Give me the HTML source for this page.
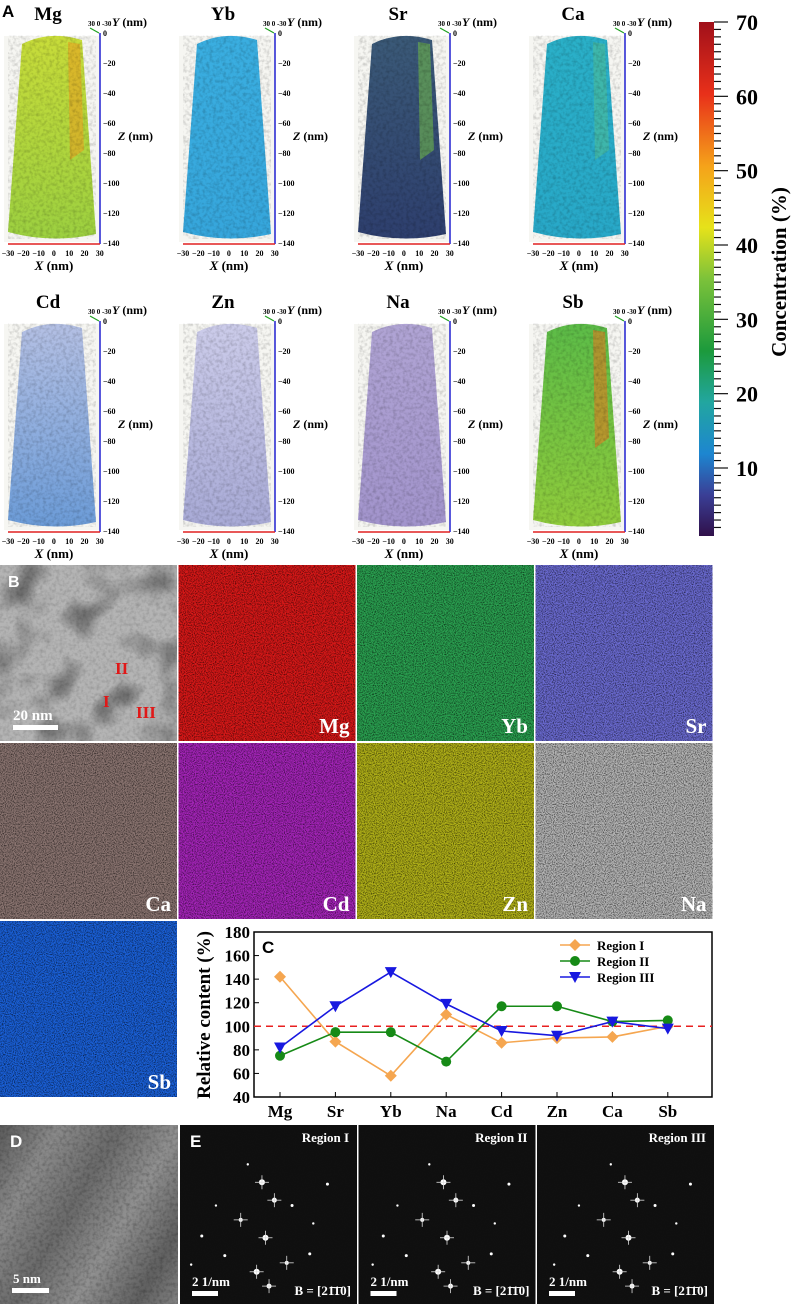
<!DOCTYPE html>
<html><head><meta charset="utf-8">
<style>
html,body{margin:0;padding:0;background:#fff;}
svg{display:block;font-family:"Liberation Serif",serif;}
.lbl{font-family:"Liberation Sans",sans-serif;font-weight:bold;}
</style></head>
<body>
<svg id="fig" width="798" height="1304" viewBox="0 0 798 1304" xmlns="http://www.w3.org/2000/svg">
<defs>
  <filter id="noise" x="0" y="0" width="100%" height="100%">
    <feTurbulence type="fractalNoise" baseFrequency="0.9" numOctaves="2" seed="3"/>
    <feColorMatrix type="matrix" values="0 0 0 0 0  0 0 0 0 0  0 0 0 0 0  0 0 0 -2.2 1.3"/>
  </filter>
  <filter id="blob" x="0" y="0" width="100%" height="100%">
    <feTurbulence type="fractalNoise" baseFrequency="0.025" numOctaves="2" seed="7"/>
    <feColorMatrix type="matrix" values="0 0 0 0 0  0 0 0 0 0  0 0 0 0 0  0 0 0 -3 1.6"/>
  </filter>
  <filter id="fine" x="0" y="0" width="100%" height="100%">
    <feTurbulence type="fractalNoise" baseFrequency="0.3" numOctaves="2" seed="11"/>
    <feColorMatrix type="matrix" values="0 0 0 0 0  0 0 0 0 0  0 0 0 0 0  0 0 0 -1.5 0.9"/>
  </filter>
  <linearGradient id="cbar" x1="0" y1="1" x2="0" y2="0">
    <stop offset="0" stop-color="#30104a"/>
    <stop offset="0.08" stop-color="#3a3f96"/>
    <stop offset="0.16" stop-color="#1d86d0"/>
    <stop offset="0.26" stop-color="#22a6a0"/>
    <stop offset="0.36" stop-color="#1c9a3c"/>
    <stop offset="0.5" stop-color="#7cc23a"/>
    <stop offset="0.6" stop-color="#e6e21a"/>
    <stop offset="0.72" stop-color="#f5a21a"/>
    <stop offset="0.86" stop-color="#e8301a"/>
    <stop offset="1" stop-color="#a0101a"/>
  </linearGradient>
  <linearGradient id="dgrad" x1="0" y1="0" x2="1" y2="0.6" spreadMethod="reflect">
    <stop offset="0" stop-color="#5a5a5a"/>
    <stop offset="0.25" stop-color="#8a8a8a"/>
    <stop offset="0.5" stop-color="#6a6a6a"/>
    <stop offset="0.75" stop-color="#909090"/>
    <stop offset="1" stop-color="#606060"/>
  </linearGradient>
</defs>

<g id="panelA"></g>
<g id="cbarG"></g>
<g id="panelB"></g>
<g id="chartC"></g>
<g id="panelDE"></g>
</svg>
<script>
const NS="http://www.w3.org/2000/svg";
// Chart C data
const categories=["Mg","Sr","Yb","Na","Cd","Zn","Ca","Sb"];
const regionI=[142,87,58,110,86,90,91,100];
const regionII=[75,95,95,70,117,117,104,105];
const regionIII=[82,117,146,119,96,92,104,98];
const yTicks=[40,60,80,100,120,140,160,180];
const cbarTicks=[10,20,30,40,50,60,70];
const zTicks=[0,-20,-40,-60,-80,-100,-120,-140];
const xTicks=[-30,-20,-10,0,10,20,30];

function el(tag,attrs,parent,text){const e=document.createElementNS(NS,tag);for(const k in attrs)e.setAttribute(k,attrs[k]);if(text!==undefined)e.textContent=text;parent.appendChild(e);return e;}

// ---------- Panel A ----------
const A=document.getElementById('panelA');
const tomo=[
 {n:"Mg",c1:"#c8dc3a",c2:"#9cd040",hi:"#e8a020"},
 {n:"Yb",c1:"#3aaee0",c2:"#36a6dc",hi:null},
 {n:"Sr",c1:"#3b5a78",c2:"#2e3f6e",hi:"#6fb84a"},
 {n:"Ca",c1:"#2ab0c8",c2:"#28a8c8",hi:"#4cbc98"},
 {n:"Cd",c1:"#b4c0e4",c2:"#6c9cd8",hi:null},
 {n:"Zn",c1:"#ccccea",c2:"#a8aad6",hi:null},
 {n:"Na",c1:"#b0a4d4",c2:"#a294cc",hi:null},
 {n:"Sb",c1:"#5cbc48",c2:"#90cc3c",hi:"#e07a22"}
];
tomo.forEach((t,i)=>{
  const ox=(i%4)*175, oy=Math.floor(i/4)*288;
  const g=el('g',{},A);
  
  
  el('text',{x:ox+48,y:oy+20,'font-size':19,'font-weight':'bold','text-anchor':'middle'},g,t.n);
  el('rect',{x:ox+4,y:oy+36,width:96,height:206,fill:'#f6f6f2'},g);
  const gid='tg'+i;
  const lg=el('linearGradient',{id:gid,x1:0,y1:0,x2:0,y2:1},g);
  el('stop',{offset:0,'stop-color':t.c1},lg);el('stop',{offset:1,'stop-color':t.c2},lg);
  const p=`M${ox+22},${oy+44} Q${ox+50},${oy+30} ${ox+82},${oy+40} L${ox+96},${oy+234} Q${ox+52},${oy+244} ${ox+8},${oy+232} Z`;
  el('path',{d:p,fill:`url(#${gid})`},g);
  if(t.hi){el('path',{d:`M${ox+68},${oy+42} L${ox+80},${oy+44} L${ox+84},${oy+150} L${ox+70},${oy+160} Z`,fill:t.hi,opacity:0.6},g);}
  el('path',{d:p,fill:'#000',filter:'url(#fine)',opacity:0.25},g);
  el('line',{x1:ox+100,y1:oy+33,x2:ox+100,y2:oy+244,stroke:'#2020d0','stroke-width':1.5},g);
  el('line',{x1:ox+8,y1:oy+244,x2:ox+100,y2:oy+244,stroke:'#e02020','stroke-width':1.5},g);
  el('line',{x1:ox+90,y1:oy+28,x2:ox+99,y2:oy+33,stroke:'#20a020','stroke-width':1.2},g);
  el('text',{x:ox+88,y:oy+26,'font-size':7,'font-weight':'bold'},g,"30 0 -30");
  el('text',{x:ox+112,y:oy+26,'font-size':12,'font-weight':'bold'},g).innerHTML='<tspan font-style="italic">Y</tspan> (nm)';
  zTicks.forEach((z,k)=>{el('text',{x:ox+103,y:oy+36+k*30,'font-size':8,'font-weight':'bold'},g,z===0?"0":"−"+(-z));});
  el('text',{x:ox+118,y:oy+140,'font-size':12,'font-weight':'bold'},g).innerHTML='<tspan font-style="italic">Z</tspan> (nm)';
  xTicks.forEach((x,k)=>{el('text',{x:ox+8+k*15.3,y:oy+256,'font-size':8,'font-weight':'bold','text-anchor':'middle'},g,x<0?"−"+(-x):String(x));});
  el('text',{x:ox+54,y:oy+270,'font-size':13,'font-weight':'bold','text-anchor':'middle'},g).innerHTML='<tspan font-style="italic">X</tspan> (nm)';
});
el('text',{x:2,y:17,'font-size':17,class:'lbl'},A,"A");

// ---------- Colorbar ----------
const CB=document.getElementById('cbarG');
const cy=v=>22+(70-v)*(468-22)/60;
el('rect',{x:699,y:22,width:15,height:514,fill:'url(#cbar)'},CB);
for(let v=2;v<=70;v++){el('line',{x1:714,x2:v%10===0?728:721,y1:cy(v),y2:cy(v),stroke:'#111','stroke-width':1.2},CB);}
cbarTicks.forEach(v=>{el('text',{x:736,y:cy(v)+8,'font-size':22,'font-weight':'bold'},CB,String(v));});
el('text',{x:786,y:272,'font-size':21,'font-weight':'bold','text-anchor':'middle',transform:'rotate(-90 786 272)'},CB,"Concentration (%)");

// ---------- Panel B ----------
const B=document.getElementById('panelB');
const tiles=[
 {n:"",c:"#b4b4b4",row:0,col:0},{n:"Mg",c:"#d81818",row:0,col:1},{n:"Yb",c:"#2aa050",row:0,col:2},{n:"Sr",c:"#6a6ad0",row:0,col:3},
 {n:"Ca",c:"#8a7470",row:1,col:0},{n:"Cd",c:"#a424b8",row:1,col:1},{n:"Zn",c:"#b0b018",row:1,col:2},{n:"Na",c:"#b4b4b4",row:1,col:3},
 {n:"Sb",c:"#1a60d8",row:2,col:0}
];
tiles.forEach(t=>{
  const x=t.col*178.5, y=565+t.row*178, w=177, h=176;
  const g=el('g',{},B);
  
  
  el('rect',{x:x,y:y,width:w,height:h,fill:t.c},g);
  if(t.n===""){el('rect',{x:x,y:y,width:w,height:h,fill:'#555',filter:'url(#blob)',opacity:0.4},g);
    el('rect',{x:x,y:y,width:w,height:h,fill:'#fff',filter:'url(#fine)',opacity:0.2},g);}
  else el('rect',{x:x,y:y,width:w,height:h,fill:'#000',filter:'url(#noise)',opacity:0.75},g);
  if(t.n) el('text',{x:x+w-6,y:y+h-8,'font-size':21,'font-weight':'bold',fill:'#fff','text-anchor':'end'},g,t.n);
});
el('text',{x:8,y:587,'font-size':16,class:'lbl',fill:'#fff'},B,"B");
el('text',{x:115,y:674,'font-size':17,'font-weight':'bold',fill:'#e01818'},B,"II");
el('text',{x:103,y:707,'font-size':17,'font-weight':'bold',fill:'#e01818'},B,"I");
el('text',{x:136,y:718,'font-size':17,'font-weight':'bold',fill:'#e01818'},B,"III");
el('text',{x:13,y:720,'font-size':15,'font-weight':'bold',fill:'#fff'},B,"20 nm");
el('rect',{x:13,y:725,width:45,height:5,fill:'#fff'},B);

// ---------- Chart C ----------
const C=document.getElementById('chartC');
el('rect',{x:180,y:921,width:534,height:186,fill:'#fff'},C);
const L=254,R=712,T=932,Bt=1097;
const xs=i=>280+i*55.4;
const ys=v=>Bt-(v-40)*(Bt-T)/140;
el('rect',{x:L,y:T,width:R-L,height:Bt-T,fill:'none',stroke:'#000','stroke-width':1.5},C);
yTicks.forEach(v=>{el('line',{x1:L,x2:L+5,y1:ys(v),y2:ys(v),stroke:'#000'},C);
  el('text',{x:L-4,y:ys(v)+6,'font-size':17,'font-weight':'bold','text-anchor':'end'},C,String(v));});
categories.forEach((c,i)=>{el('line',{x1:xs(i),x2:xs(i),y1:Bt,y2:Bt-5,stroke:'#000'},C);
  el('text',{x:xs(i),y:Bt+20,'font-size':17,'font-weight':'bold','text-anchor':'middle'},C,c);});
el('text',{x:210,y:1015,'font-size':19,'font-weight':'bold','text-anchor':'middle',transform:'rotate(-90 210 1015)'},C,"Relative content  (%)");
el('text',{x:262,y:953,'font-size':17,class:'lbl'},C,"C");
el('line',{x1:L,x2:R,y1:ys(100),y2:ys(100),stroke:'#e82020','stroke-width':1.5,'stroke-dasharray':'7,5'},C);
const series=[{d:regionI,c:"#f5a650",m:"diamond",n:"Region I"},{d:regionII,c:"#168a16",m:"circle",n:"Region II"},{d:regionIII,c:"#1818e0",m:"tri",n:"Region III"}];
function marker(g,m,x,y,c){
  if(m==="diamond") el('path',{d:`M${x},${y-6} L${x+6},${y} L${x},${y+6} L${x-6},${y} Z`,fill:c},g);
  else if(m==="circle") el('circle',{cx:x,cy:y,r:5,fill:c},g);
  else el('path',{d:`M${x-6},${y-5} L${x+6},${y-5} L${x},${y+6} Z`,fill:c},g);
}
series.forEach((s,k)=>{
  const g=el('g',{},C);
  
  
  el('polyline',{points:s.d.map((v,i)=>xs(i)+","+ys(v)).join(" "),fill:'none',stroke:s.c,'stroke-width':1.6},g);
  s.d.forEach((v,i)=>marker(g,s.m,xs(i),ys(v),s.c));
  const lg=el('g',{},C);
  
  
  const ly=945+k*16;
  el('line',{x1:560,x2:590,y1:ly,y2:ly,stroke:s.c,'stroke-width':1.6},lg);
  marker(lg,s.m,575,ly,s.c);
  el('text',{x:597,y:ly+5,'font-size':13,'font-weight':'bold'},lg,s.n);
});

// ---------- Panels D & E ----------
const DE=document.getElementById('panelDE');
const gd=el('g',{},DE);


el('rect',{x:0,y:1125,width:178,height:179,fill:'url(#dgrad)'},gd);
el('rect',{x:0,y:1125,width:178,height:179,fill:'#000',filter:'url(#fine)',opacity:0.3},gd);
el('text',{x:10,y:1147,'font-size':17,class:'lbl',fill:'#fff'},gd,"D");
el('text',{x:13,y:1283,'font-size':13,'font-weight':'bold',fill:'#fff'},gd,"5 nm");
el('rect',{x:12,y:1288,width:37,height:5,fill:'#fff'},gd);
const spots=[[0.48,0.32,3],[0.55,0.42,2.5],[0.36,0.53,2],[0.5,0.63,3],[0.45,0.82,3],[0.52,0.9,2.5],[0.27,0.73,1.5],[0.65,0.45,1.5],[0.85,0.33,1.5],[0.14,0.62,1.5],[0.62,0.77,2],[0.75,0.72,1.5],[0.4,0.22,1.2],[0.08,0.78,1.2],[0.77,0.55,1.2],[0.22,0.45,1.2]];
["Region I","Region II","Region III"].forEach((n,k)=>{
  const x=180+k*178.5,y=1125,w=177,h=179;
  const g=el('g',{},DE);
  
  
  el('rect',{x:x,y:y,width:w,height:h,fill:'#101010'},g);
  el('rect',{x:x,y:y,width:w,height:h,fill:'#fff',filter:'url(#noise)',opacity:0.08},g);
  spots.forEach(s=>{const sx=x+s[0]*w+(k-1)*3, sy=y+s[1]*h;
    el('circle',{cx:sx,cy:sy,r:s[2],fill:'#fff'},g);
    if(s[2]>=2){el('line',{x1:sx-7,x2:sx+7,y1:sy,y2:sy,stroke:'#ddd','stroke-width':0.8},g);el('line',{x1:sx,x2:sx,y1:sy-7,y2:sy+7,stroke:'#ddd','stroke-width':0.8},g);}
  });
  el('text',{x:x+w-8,y:y+17,'font-size':13,'font-weight':'bold',fill:'#fff','text-anchor':'end'},g,n);
  el('text',{x:x+12,y:y+161,'font-size':13,'font-weight':'bold',fill:'#fff'},g,"2 1/nm");
  el('rect',{x:x+12,y:y+166,width:26,height:5,fill:'#fff'},g);
  el('text',{x:x+w-6,y:y+170,'font-size':13,'font-weight':'bold',fill:'#fff','text-anchor':'end'},g,"B = [21\u03041\u03040]");
  if(k===0) el('text',{x:x+10,y:y+22,'font-size':17,class:'lbl',fill:'#fff'},g,"E");
});
</script>
</body></html>
